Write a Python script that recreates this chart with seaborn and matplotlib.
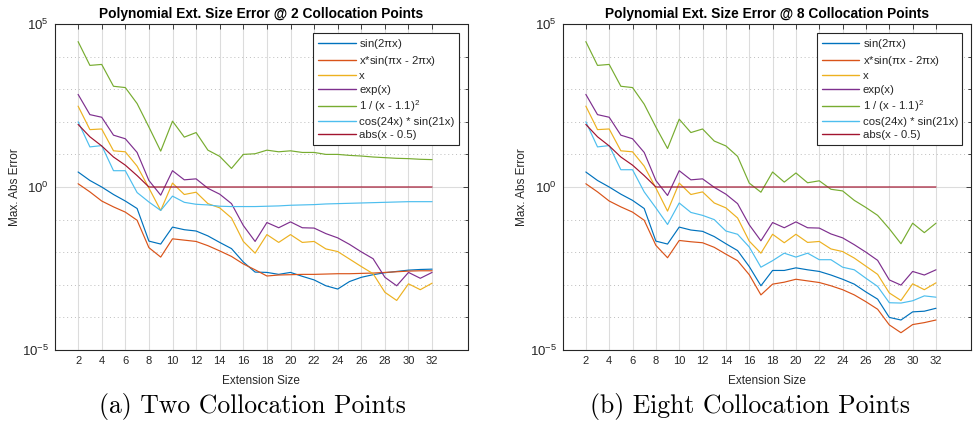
import numpy as np
import pandas as pd
import matplotlib
matplotlib.use("Agg")
import matplotlib.pyplot as plt
import matplotlib.ticker as mticker
import seaborn as sns

# ---------------- data (log10 of max abs error) ----------------
ext_sizes = list(range(2, 33))

func_names = ["sin(2$\\pi$x)", "x*sin($\\pi$x - 2$\\pi$x)", "x", "exp(x)",
              "1 / (x - 1.1)$^2$", "cos(24x) * sin(21x)", "abs(x - 0.5)"]
func_colors = ["#0072BD", "#D95319", "#EDB120", "#7E2F8E", "#77AC30", "#4DBEEE", "#A2142F"]

# (a) two collocation points
sin_a = [0.46, 0.20, 0.0, -0.23, -0.43, -0.66, -1.66, -1.75, -1.23, -1.31, -1.35, -1.50, -1.70, -1.89,
         -2.30, -2.61, -2.62, -2.68, -2.62, -2.74, -2.85, -3.03, -3.13, -2.90, -2.77, -2.69, -2.63,
         -2.59, -2.55, -2.53, -2.52]
xsin_a = [0.10, -0.15, -0.43, -0.61, -0.77, -1.02, -1.86, -2.15, -1.59, -1.63, -1.67, -1.80, -1.96,
          -2.13, -2.36, -2.54, -2.73, -2.70, -2.69, -2.68, -2.68, -2.67, -2.66, -2.66, -2.65, -2.64,
          -2.62, -2.60, -2.58, -2.57, -2.57]
x_a = [2.48, 1.76, 1.78, 1.11, 1.08, 0.64, -0.03, -0.72, 0.12, -0.23, -0.16, -0.51, -0.64, -0.95,
       -1.67, -2.03, -1.46, -1.70, -1.46, -1.70, -1.67, -1.90, -1.98, -2.21, -2.44, -2.66, -3.23,
       -3.48, -2.97, -3.15, -2.95]
exp_a = [2.84, 2.22, 2.14, 1.59, 1.48, 1.06, 0.20, -0.25, 0.50, 0.22, 0.25, -0.04, -0.22, -0.51,
         -1.18, -1.67, -1.09, -1.25, -1.07, -1.25, -1.26, -1.43, -1.56, -1.76, -1.99, -2.20, -2.77,
         -3.03, -2.62, -2.80, -2.62]
inv_a = [4.46, 3.73, 3.76, 3.09, 3.05, 2.56, 1.84, 1.10, 2.02, 1.53, 1.67, 1.13, 0.94, 0.57, 1.00,
         1.02, 1.13, 1.08, 1.11, 1.06, 1.06, 1.00, 1.00, 0.97, 0.95, 0.92, 0.90, 0.88, 0.87, 0.85, 0.84]
cos_a = [2.00, 1.23, 1.27, 0.50, 0.50, -0.17, -0.46, -0.72, -0.28, -0.47, -0.53, -0.55, -0.59, -0.60,
         -0.60, -0.60, -0.59, -0.58, -0.56, -0.55, -0.54, -0.52, -0.51, -0.50, -0.49, -0.48, -0.47,
         -0.46, -0.45, -0.45, -0.45]
abs_a = [1.92, 1.54, 1.26, 0.92, 0.67, 0.35, 0.0, 0.0, 0.0, 0.0, 0.0, 0.0, 0.0, 0.0, 0.0, 0.0, 0.0,
         0.0, 0.0, 0.0, 0.0, 0.0, 0.0, 0.0, 0.0, 0.0, 0.0, 0.0, 0.0, 0.0, 0.0]

# (b) eight collocation points
sin_b = [0.46, 0.20, 0.0, -0.22, -0.41, -0.66, -1.66, -1.75, -1.23, -1.32, -1.36, -1.52, -1.74, -1.95,
         -2.44, -3.03, -2.56, -2.56, -2.48, -2.54, -2.59, -2.70, -2.83, -2.98, -3.22, -3.44, -4.00,
         -4.08, -3.83, -3.81, -3.72]
xsin_b = [0.10, -0.15, -0.43, -0.61, -0.77, -1.02, -1.79, -2.17, -1.64, -1.68, -1.71, -1.85, -2.06,
          -2.26, -2.69, -3.31, -2.98, -2.92, -2.83, -2.88, -2.93, -3.03, -3.15, -3.31, -3.52, -3.75,
          -4.23, -4.47, -4.22, -4.16, -4.08]
x_b = [2.48, 1.76, 1.78, 1.11, 1.08, 0.64, -0.03, -0.74, 0.12, -0.23, -0.15, -0.49, -0.64, -0.95,
       -1.66, -2.03, -1.45, -1.71, -1.45, -1.70, -1.67, -1.90, -1.98, -2.18, -2.43, -2.68, -3.25,
       -3.48, -2.97, -3.15, -2.94]
exp_b = [2.84, 2.22, 2.14, 1.59, 1.48, 1.06, 0.20, -0.26, 0.50, 0.22, 0.25, -0.01, -0.22, -0.51,
         -1.16, -1.65, -1.09, -1.25, -1.07, -1.25, -1.26, -1.44, -1.56, -1.77, -2.00, -2.25, -2.85,
         -3.01, -2.59, -2.70, -2.54]
inv_b = [4.46, 3.73, 3.76, 3.09, 3.05, 2.54, 1.84, 1.18, 2.08, 1.67, 1.78, 1.41, 1.26, 0.94, 0.12,
         -0.16, 0.46, 0.15, 0.43, 0.13, 0.19, -0.07, -0.12, -0.41, -0.63, -0.87, -1.28, -1.74, -1.11,
         -1.40, -1.11]
cos_b = [2.00, 1.23, 1.27, 0.53, 0.53, -0.15, -0.64, -1.15, -0.49, -0.78, -0.87, -1.00, -1.35, -1.45,
         -1.84, -2.46, -2.26, -2.03, -2.15, -2.03, -2.23, -2.23, -2.46, -2.54, -2.80, -3.05, -3.55,
         -3.56, -3.49, -3.34, -3.38]
abs_b = abs_a

panel_titles = ["Polynomial Ext. Size Error @ 2 Collocation Points",
                "Polynomial Ext. Size Error @ 8 Collocation Points"]
captions = ["(a) Two Collocation Points", "(b) Eight Collocation Points"]
x_ticks = list(range(2, 33, 2))

series_a = [sin_a, xsin_a, x_a, exp_a, inv_a, cos_a, abs_a]
series_b = [sin_b, xsin_b, x_b, exp_b, inv_b, cos_b, abs_b]


def make_df(series):
    rows = []
    for name, vals in zip(func_names, series):
        for n, v in zip(ext_sizes, vals):
            rows.append({"Extension Size": n, "err": 10.0 ** v, "func": name})
    return pd.DataFrame(rows)


# ---------------- style ----------------
sns.set_theme(style="white")
plt.rcParams["font.family"] = ["Liberation Sans", "DejaVu Sans"]
plt.rcParams["mathtext.default"] = "regular"
plt.rcParams["axes.unicode_minus"] = False

fig = plt.figure(figsize=(9.77, 4.25), dpi=100)
W, H = 977.0, 425.0
axes_px = [(54.5, 467.5), (562.5, 971.0)]
top_px, bot_px = 24.0, 350.0
caption_cx = [252.0, 750.0]
ylabel_x = [15.0, 522.0]

for i, series in enumerate([series_a, series_b]):
    x0, x1 = axes_px[i]
    ax = fig.add_axes([x0 / W, (H - bot_px) / H, (x1 - x0) / W, (bot_px - top_px) / H])
    df = make_df(series)
    sns.lineplot(data=df, x="Extension Size", y="err", hue="func", hue_order=func_names,
                 palette=func_colors, linewidth=0.85, ax=ax, legend=True)
    ax.set_yscale("log")
    ax.set_ylim(1e-5, 1e5)
    ax.set_xlim(0, 35)
    ax.set_xticks(x_ticks)
    ax.set_xticklabels([str(t) for t in x_ticks])
    ax.yaxis.set_major_locator(mticker.FixedLocator([1e-5, 1e0, 1e5]))
    ax.yaxis.set_minor_locator(mticker.FixedLocator([10.0 ** k for k in [-4, -3, -2, -1, 1, 2, 3, 4]]))
    ax.yaxis.set_major_formatter(mticker.LogFormatterMathtext())
    ax.yaxis.set_minor_formatter(mticker.NullFormatter())
    ax.grid(True, which="major", axis="both", color="#dcdcdc", linewidth=0.8, linestyle="-")
    ax.grid(True, which="minor", axis="y", color="#bdbdbd", linewidth=0.7, linestyle=(0, (1, 3)))
    ax.set_axisbelow(True)
    ax.tick_params(which="both", direction="in", top=True, right=True, colors="#262626",
                   labelsize=8, width=0.6)
    ax.tick_params(axis="y", which="major", labelsize=9.5)
    ax.tick_params(which="major", length=3.5, pad=4)
    ax.tick_params(which="minor", length=2.5)
    for s in ax.spines.values():
        s.set_color("#262626")
        s.set_linewidth(0.8)
    ax.set_xlabel("Extension Size", fontsize=8.5, color="#262626", labelpad=7)
    ax.set_ylabel("")
    fig.text(ylabel_x[i] / W, (H - 187.0) / H, "Max. Abs Error", rotation=90, fontsize=8.5,
             color="#262626", ha="center", va="center")
    ax.set_title(panel_titles[i], fontsize=9.9, fontweight="bold", color="black", pad=4)

    handles, labels = ax.get_legend_handles_labels()
    leg = ax.legend(handles, labels, loc="upper right", fontsize=8.2, frameon=True, fancybox=False,
                    edgecolor="#262626", framealpha=1.0, handlelength=3.3, handletextpad=0.3,
                    labelspacing=0.28, borderpad=0.4, borderaxespad=0.75)
    leg.get_frame().set_linewidth(0.8)
    for h in leg.legend_handles:
        h.set_linewidth(1.0)

    fig.text(caption_cx[i] / W, (H - 407.0) / H, captions[i], fontsize=18.5, family="cmr10",
             ha="center", va="center", color="black")

fig.savefig("out.png", dpi=100)
